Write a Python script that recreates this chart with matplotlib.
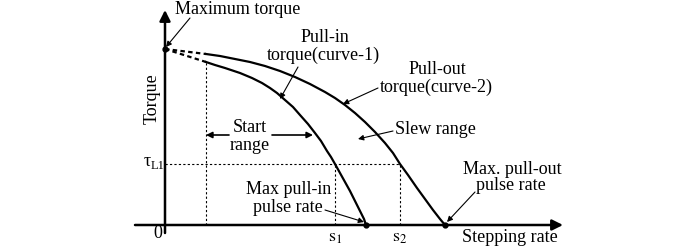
import matplotlib
matplotlib.use("Agg")
import matplotlib.pyplot as plt

plt.rcParams["font.family"] = ["Liberation Serif", "DejaVu Serif"]
plt.rcParams["mathtext.fontset"] = "stix"

# torque / stepping-rate values (arbitrary units)
max_torque = 176
tau_L1 = 61
s1 = 170
s2 = 235
start_rate = 41

# pull-in torque (curve-1)
pullin_rate = [41, 50, 60, 75, 87, 97, 105, 112, 120, 128, 135, 143, 150, 156,
               162, 166, 170, 175, 180, 185, 189, 193, 196, 199, 201]
pullin_torque = [163, 160, 157, 152, 147, 142, 137, 132, 125, 118, 110, 101, 92, 84,
                 74, 68, 61, 52, 43, 34, 26, 18, 12, 6, 0]

# pull-out torque (curve-2)
pullout_rate = [41, 55, 70, 85, 100, 115, 130, 145, 160, 170, 180, 190, 200, 210,
                220, 228, 235, 243, 252, 260, 268, 275, 280]
pullout_torque = [171, 169, 166, 163, 159, 154, 148, 141, 133, 127, 120, 112, 103, 93,
                  82, 72, 61, 50, 37, 26, 15, 6, 0]

fig = plt.figure(figsize=(7, 2.5), dpi=100)
ax = fig.add_axes([0, 0, 1, 1])
ax.set_xlim(-165, 535)
ax.set_ylim(-25, 225)
ax.axis("off")

fs = 13
arr = dict(arrowstyle="-|>", color="black", lw=0.8, mutation_scale=8, shrinkA=0, shrinkB=0)
axarr = dict(arrowstyle="-|>", color="black", lw=1.8, mutation_scale=16, shrinkA=0, shrinkB=0)
dbl = dict(arrowstyle="-|>", color="black", lw=1.2, mutation_scale=9, shrinkA=0, shrinkB=0)

# axes with arrows
ax.annotate("", xy=(398, 0), xytext=(-30, 0), arrowprops=axarr)
ax.annotate("", xy=(0, 215), xytext=(0, -8), arrowprops=axarr)

# curves
ax.plot(pullin_rate, pullin_torque, color="black", lw=1.6, solid_joinstyle="round")
ax.plot(pullout_rate, pullout_torque, color="black", lw=1.6, solid_joinstyle="round")
ax.plot([0, pullin_rate[0]], [max_torque, pullin_torque[0]], color="black", lw=1.6, ls=(0, (2, 1.5)))
ax.plot([0, pullout_rate[0]], [max_torque, pullout_torque[0]], color="black", lw=1.6, ls=(0, (2, 1.5)))

# dotted guides
ax.plot([0, s2], [tau_L1, tau_L1], color="black", lw=0.8, ls=(0, (2, 2)))
ax.plot([s1, s1], [0, tau_L1], color="black", lw=0.8, ls=(0, (2, 2)))
ax.plot([s2, s2], [0, tau_L1], color="black", lw=0.8, ls=(0, (2, 2)))
ax.plot([start_rate, start_rate], [0, pullin_torque[0]], color="black", lw=0.8, ls=(0, (2, 2)))

# points
ax.plot([0, pullin_rate[-1], pullout_rate[-1]], [max_torque, 0, 0], "o", color="black", ms=3.5)

# labels
ax.text(10, 215, "Maximum torque", fontsize=fs, ha="left", va="center")
ax.annotate("", xy=(1, 178), xytext=(25, 207), arrowprops=arr)

ax.text(160, 188, "Pull-in", fontsize=fs, ha="center", va="center")
ax.text(158, 170, "torque(curve-1)", fontsize=fs, ha="center", va="center")
ax.annotate("", xy=(115, 126), xytext=(133, 158), arrowprops=arr)

ax.text(272, 155, "Pull-out", fontsize=fs, ha="center", va="center")
ax.text(271, 138, "torque(curve-2)", fontsize=fs, ha="center", va="center")
ax.annotate("", xy=(178, 121), xytext=(213, 137), arrowprops=arr)

ax.text(230, 95, "Slew range", fontsize=fs, ha="left", va="center")
ax.annotate("", xy=(193, 86), xytext=(228, 94), arrowprops=arr)

ax.text(85, 97, "Start", fontsize=fs, ha="center", va="center")
ax.text(85, 80, "range", fontsize=fs, ha="center", va="center")
ax.annotate("", xy=(start_rate, 90), xytext=(64, 90), arrowprops=dbl)
ax.annotate("", xy=(148, 90), xytext=(107, 90), arrowprops=dbl)

ax.text(124, 35, "Max pull-in", fontsize=fs, ha="center", va="center")
ax.text(123, 18, "pulse rate", fontsize=fs, ha="center", va="center")
ax.annotate("", xy=(199, 3), xytext=(160, 15), arrowprops=arr)

ax.text(347, 55, "Max. pull-out", fontsize=fs, ha="center", va="center")
ax.text(346, 39, "pulse rate", fontsize=fs, ha="center", va="center")
ax.annotate("", xy=(282, 3), xytext=(310, 33), arrowprops=arr)

ax.text(345, -13, "Stepping rate", fontsize=fs, ha="center", va="center")
ax.text(-13, 126, "Torque", fontsize=fs, ha="center", va="center", rotation=90)
ax.text(-14, 63, "τ", fontsize=fs, ha="right", va="center")
ax.text(-14, 59, "L1", fontsize=9, ha="left", va="center")
ax.text(-7, -9, "0", fontsize=fs, ha="center", va="center")
ax.text(s1, -13, r"$\mathrm{s}_1$", fontsize=fs, ha="center", va="center")
ax.text(s2, -13, r"$\mathrm{s}_2$", fontsize=fs, ha="center", va="center")

fig.savefig("out.png", dpi=100)
